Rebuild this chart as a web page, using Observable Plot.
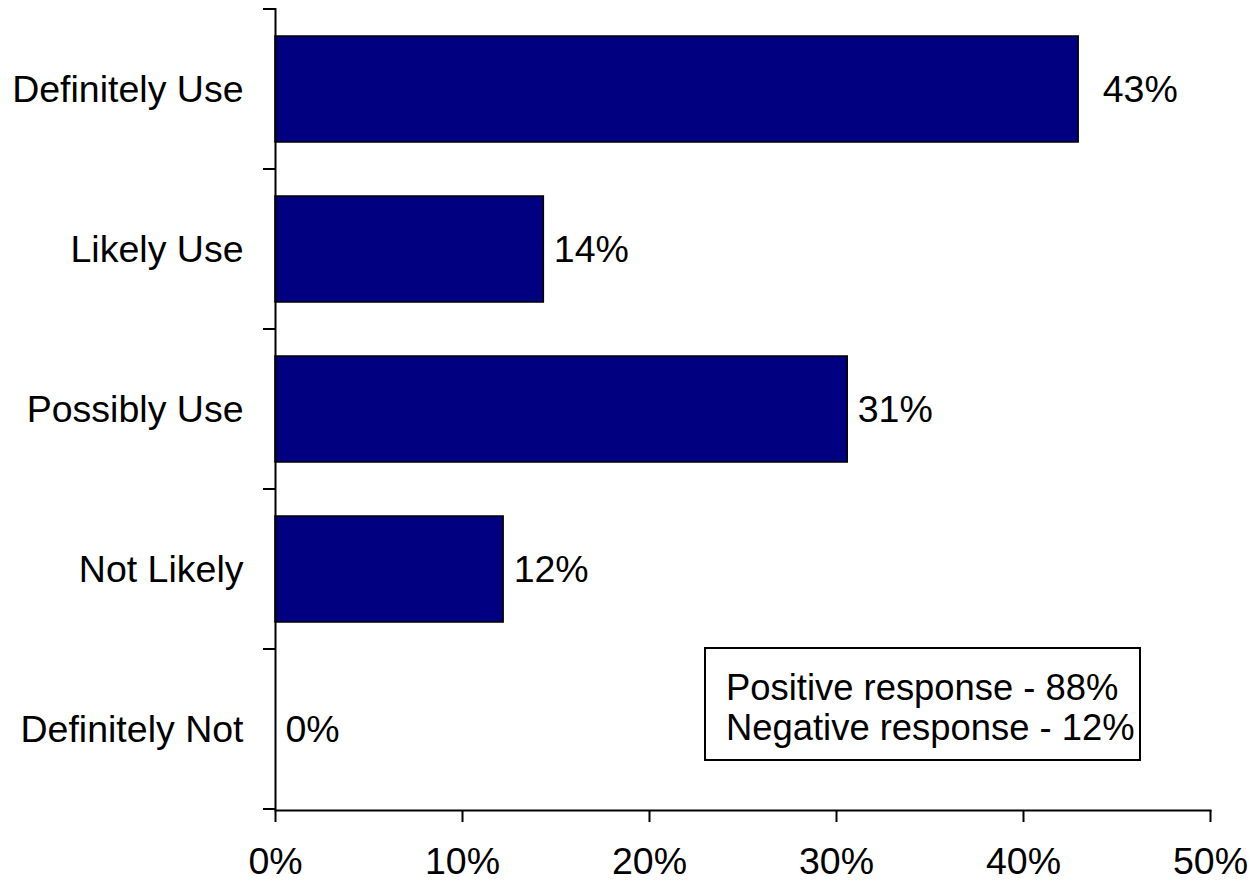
<!DOCTYPE html>
<html>
<head>
<meta charset="utf-8">
<script src="https://cdn.jsdelivr.net/npm/d3@7"></script>
<script src="https://cdn.jsdelivr.net/npm/@observablehq/plot@0.6"></script>
<style>
  html, body { margin: 0; padding: 0; background: #fff; }
  #wrap { position: relative; width: 1254px; height: 883px; font-family: "Liberation Sans", Arial, sans-serif; }
  #note { position: absolute; left: 704px; top: 647px; width: 437px; height: 114px; border: 2px solid #000;
          font-size: 36.4px; line-height: 40px; padding: 19px 0 0 20px; box-sizing: border-box; color: #000; white-space: nowrap; }
</style>
</head>
<body>
<div id="wrap"></div>
<script>
const categories = ["Definitely Use", "Likely Use", "Possibly Use", "Not Likely", "Definitely Not"];
const values = [42.95, 14.35, 30.6, 12.2, 0];
const valueLabels = ["43%", "14%", "31%", "12%", "0%"];
const xTicks = [0, 10, 20, 30, 40, 50];
const xTickLabels = ["0%", "10%", "20%", "30%", "40%", "50%"];
const noteLines = ["Positive response - 88%", "Negative response - 12%"];

const data = categories.map((c, i) => ({cat: c, value: values[i], label: valueLabels[i]}));

const boundaryTicks = (index, scales, channels, dims) => {
  const g = d3.create("svg:g").attr("stroke", "#000").attr("stroke-width", 2);
  const y = scales.y, bw = y.bandwidth();
  const x0 = dims.marginLeft;
  const ys = categories.map(c => y(c)).concat([y(categories[categories.length - 1]) + bw]);
  for (const yy of ys) {
    g.append("line").attr("x1", x0 - 12).attr("x2", x0).attr("y1", yy).attr("y2", yy);
  }
  return g.node();
};

const FS = 37.5;
const chart = Plot.plot({
  width: 1254,
  height: 883,
  marginLeft: 275,
  marginRight: 44,
  marginTop: 8,
  marginBottom: 73,
  style: {fontFamily: "'Liberation Sans', Arial, sans-serif", fontSize: FS + "px", color: "#000", background: "#fff"},
  x: {domain: [0, 50], ticks: xTicks},
  y: {domain: categories, padding: 0},
  marks: [
    Plot.barX(data, {x: "value", y: "cat", fill: "#000080", stroke: "#000", strokeWidth: 1.5, insetTop: 27, insetBottom: 27}),
    Plot.ruleX([0], {stroke: "#000", strokeWidth: 2}),
    Plot.frame({anchor: "bottom", stroke: "#000", strokeWidth: 2}),
    Plot.axisX({ticks: xTicks, tickFormat: d => xTickLabels[xTicks.indexOf(d)], tickSize: 12, tickPadding: 25, strokeWidth: 2, fontSize: FS, label: null}),
    Plot.axisY({tickSize: 0, tickPadding: 32, fontSize: FS, label: null}),
    boundaryTicks,
    Plot.text(data.filter(d => d.value > 40), {x: "value", y: "cat", text: "label", textAnchor: "start", dx: 24, fontSize: FS, fill: "#000"}),
    Plot.text(data.filter(d => d.value <= 40), {x: "value", y: "cat", text: "label", textAnchor: "start", dx: 10, fontSize: FS, fill: "#000"})
  ]
});

const wrap = document.getElementById("wrap");
wrap.appendChild(chart);
const note = document.createElement("div");
note.id = "note";
note.innerHTML = noteLines.map(t => `<div>${t}</div>`).join("");
wrap.appendChild(note);
</script>
</body>
</html>
